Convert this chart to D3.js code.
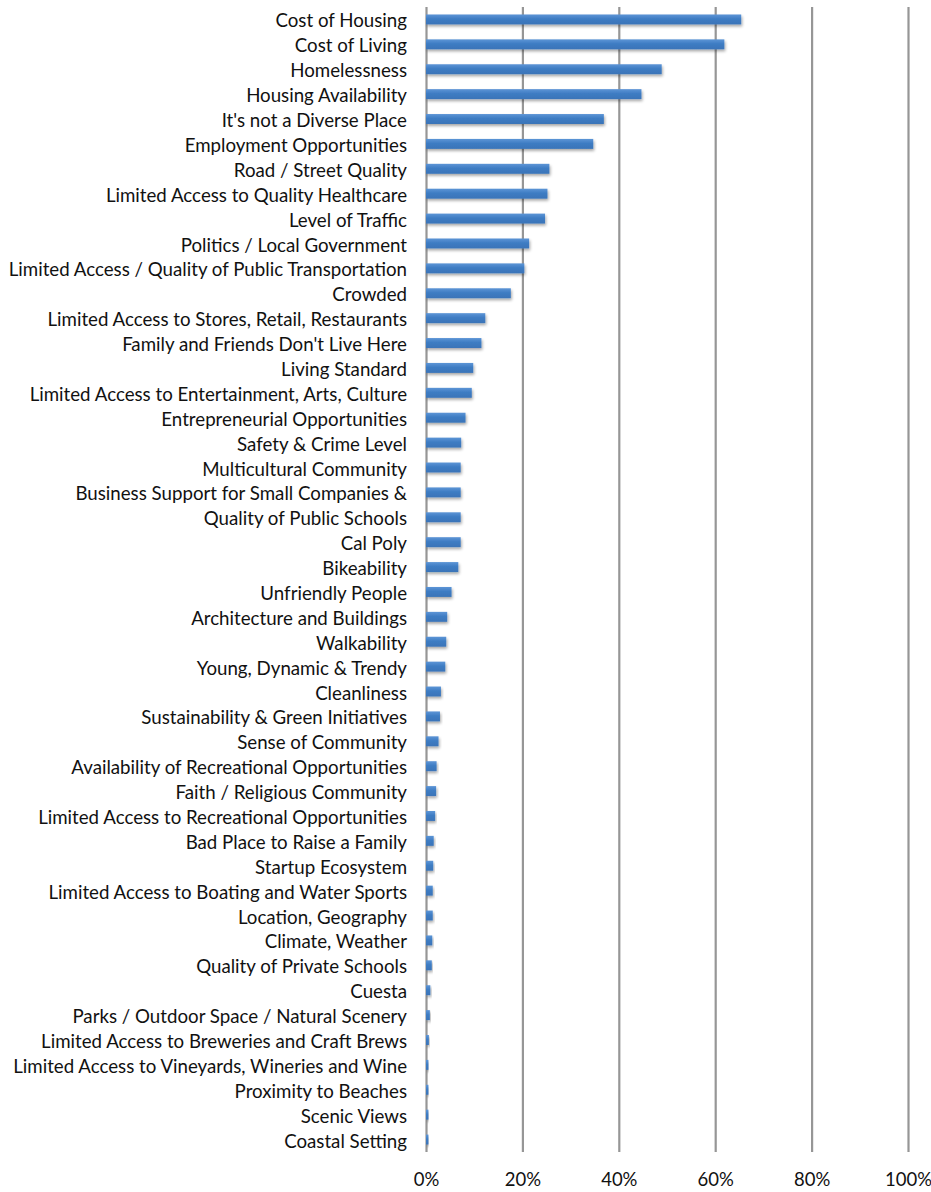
<!DOCTYPE html>
<html>
<head>
<meta charset="utf-8">
<script src="https://cdn.jsdelivr.net/npm/d3@7"></script>
<style>
  html, body { margin: 0; padding: 0; background: #fff; }
  svg { display: block; }
  .cat { font-family: Lato, "Open Sans", sans-serif; font-size: 18.7px; fill: #111; }
  .tick text { font-family: Lato, "Open Sans", sans-serif; font-size: 18.5px; fill: #111; }
</style>
</head>
<body>
<svg id="chart" width="931" height="1192"></svg>
<script>
// Reasons people give for leaving: share of respondents per concern
const categories = [
  "Cost of Housing", "Cost of Living", "Homelessness", "Housing Availability",
  "It's not a Diverse Place", "Employment Opportunities", "Road / Street Quality",
  "Limited Access to Quality Healthcare", "Level of Traffic", "Politics / Local Government",
  "Limited Access / Quality of Public Transportation", "Crowded",
  "Limited Access to Stores, Retail, Restaurants", "Family and Friends Don't Live Here",
  "Living Standard", "Limited Access to Entertainment, Arts, Culture",
  "Entrepreneurial Opportunities", "Safety & Crime Level", "Multicultural Community",
  "Business Support for Small Companies &", "Quality of Public Schools", "Cal Poly",
  "Bikeability", "Unfriendly People", "Architecture and Buildings", "Walkability",
  "Young, Dynamic & Trendy", "Cleanliness", "Sustainability & Green Initiatives",
  "Sense of Community", "Availability of Recreational Opportunities",
  "Faith / Religious Community", "Limited Access to Recreational Opportunities",
  "Bad Place to Raise a Family", "Startup Ecosystem",
  "Limited Access to Boating and Water Sports", "Location, Geography", "Climate, Weather",
  "Quality of Private Schools", "Cuesta", "Parks / Outdoor Space / Natural Scenery",
  "Limited Access to Breweries and Craft Brews",
  "Limited Access to Vineyards, Wineries and Wine", "Proximity to Beaches",
  "Scenic Views", "Coastal Setting"
];

const shares = [
  0.654, 0.619, 0.489, 0.447, 0.369, 0.347, 0.256, 0.252, 0.247, 0.214,
  0.204, 0.176, 0.123, 0.115, 0.098, 0.095, 0.082, 0.073, 0.072, 0.072,
  0.072, 0.072, 0.067, 0.053, 0.044, 0.042, 0.040, 0.031, 0.029, 0.026,
  0.022, 0.021, 0.019, 0.016, 0.015, 0.014, 0.014, 0.013, 0.012, 0.009,
  0.008, 0.006, 0.005, 0.005, 0.005, 0.005
];

const tickValues = [0, 0.2, 0.4, 0.6, 0.8, 1.0];
const tickLabels = ["0%", "20%", "40%", "60%", "80%", "100%"];

const svg = d3.select("#chart");
const margin = { top: 7, left: 426, right: 23, bottom: 40 };
const plotW = 908 - margin.left;
const plotH = 1152 - margin.top;

const x = d3.scaleLinear().domain([0, 1]).range([margin.left, margin.left + plotW]);
const y = d3.scaleBand().domain(categories).range([margin.top, margin.top + plotH]).paddingInner(0.6).paddingOuter(0.3);

// Bar styling: slight vertical gradient and soft drop shadow
const defs = svg.append("defs");
const grad = defs.append("linearGradient").attr("id", "barFill").attr("x1", 0).attr("y1", 0).attr("x2", 0).attr("y2", 1);
grad.append("stop").attr("offset", "0%").attr("stop-color", "#5d95d6");
grad.append("stop").attr("offset", "45%").attr("stop-color", "#3e7cc3");
grad.append("stop").attr("offset", "100%").attr("stop-color", "#3a74b8");
const shadow = defs.append("filter").attr("id", "shadow").attr("x", "-10%").attr("y", "-50%").attr("width", "130%").attr("height", "250%");
shadow.append("feGaussianBlur").attr("in", "SourceAlpha").attr("stdDeviation", 1.4).attr("result", "blur");
shadow.append("feOffset").attr("in", "blur").attr("dx", 1.2).attr("dy", 1.8).attr("result", "off");
shadow.append("feComponentTransfer").attr("in", "off").attr("result", "soft")
  .append("feFuncA").attr("type", "linear").attr("slope", 0.35);
const merge = shadow.append("feMerge");
merge.append("feMergeNode").attr("in", "soft");
merge.append("feMergeNode").attr("in", "SourceGraphic");

// Vertical gridlines with percent labels underneath
const xAxis = d3.axisBottom(x)
  .tickValues(tickValues)
  .tickFormat((d, i) => tickLabels[i])
  .tickSize(-plotH)
  .tickPadding(19);

const gx = svg.append("g")
  .attr("transform", `translate(0,${margin.top + plotH})`)
  .call(xAxis);
gx.select(".domain").remove();
gx.selectAll(".tick line").attr("stroke", "#969696").attr("stroke-width", 2.2);
gx.selectAll(".tick text").attr("dy", "0.8em");

// Bars
svg.append("g")
  .selectAll("rect")
  .data(categories)
  .join("rect")
  .attr("x", x(0))
  .attr("y", d => y(d))
  .attr("height", y.bandwidth())
  .attr("width", (d, i) => Math.max(0, x(shares[i]) - x(0)))
  .attr("fill", "url(#barFill)")
  .attr("filter", "url(#shadow)");

// Category labels
svg.append("g")
  .selectAll("text")
  .data(categories)
  .join("text")
  .attr("class", "cat")
  .attr("x", 407)
  .attr("y", d => y(d) + y.bandwidth() / 2 + 1.5)
  .attr("dy", "0.35em")
  .attr("text-anchor", "end")
  .text(d => d);
</script>
</body>
</html>
